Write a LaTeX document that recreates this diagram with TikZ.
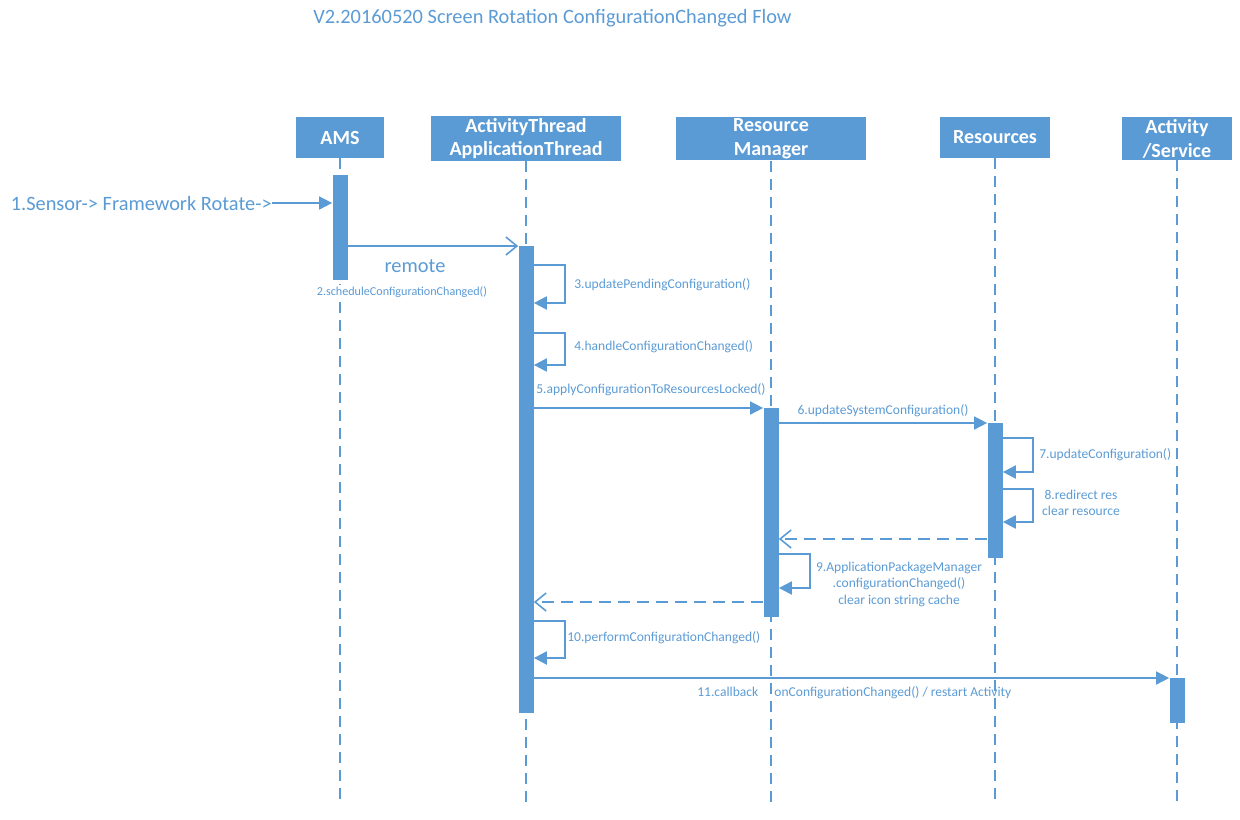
\documentclass[tikz,border=0pt]{standalone}
\usepackage{fontspec}
\setmainfont{Carlito}
\usetikzlibrary{arrows.meta,positioning}
\definecolor{seqblue}{HTML}{5B9BD5}
\tikzset{
  lifebox/.style={fill=seqblue,text=white,font=\bfseries\fontsize{11.4}{13.6}\selectfont,minimum height=0.82cm,align=center,inner sep=1pt},
  actbar/.style={fill=seqblue,minimum width=0.3cm,inner sep=0pt,anchor=north},
  lifeline/.style={seqblue,line width=0.9pt,dash pattern=on 0.22cm off 0.14cm},
  msg/.style={seqblue,line width=0.9pt,-{Triangle[length=0.26cm,width=0.26cm]}},
  remsg/.style={seqblue,line width=0.9pt,-{Straight Barb[length=0.22cm,width=0.36cm]}},
  retmsg/.style={seqblue,line width=0.9pt,dash pattern=on 0.24cm off 0.14cm,-{Straight Barb[length=0.22cm,width=0.36cm]}},
  selfmsg/.style={seqblue,line width=1.2pt,-{Triangle[length=0.26cm,width=0.26cm]}},
  lbl/.style={text=seqblue,font=\fontsize{7.7}{9.4}\selectfont,inner sep=0pt,align=center},
  biglbl/.style={text=seqblue,font=\fontsize{11.6}{13}\selectfont,inner sep=0pt}
}
\begin{document}
\begin{tikzpicture}[x=0.02cm,y=-0.02cm]
\useasboundingbox (0,0) rectangle (1240,819);
\node[biglbl,anchor=west,font=\fontsize{11.6}{13}\selectfont] (title) at (313,18) {V2.20160520 Screen Rotation ConfigurationChanged Flow}; % title
% lifeline heads
\node[lifebox,minimum width=1.76cm] (ams) at (340,137.5) {AMS};
\node[lifebox,minimum width=3.82cm] (at) at (526,138.5) {ActivityThread\\ApplicationThread};
\node[lifebox,minimum width=3.82cm] (rm) at (771,138.5) {Resource\\Manager};
\node[lifebox,minimum width=2.2cm] (res) at (995,137.5) {Resources};
\node[lifebox,minimum width=2.2cm] (act) at (1177,138.5) {Activity\\/Service};
\coordinate (bottom) at (0,803);
% dashed lifelines
\foreach \h in {ams,at,rm,res,act}
  \draw[lifeline] (\h.south) -- (\h.south |- bottom);
% activation bars
\node[actbar,minimum height=2.1cm] (amsbar) at (340,175) {};
\node[actbar,minimum height=9.34cm] (atbar) at (526,246) {};
\node[actbar,minimum height=4.18cm] (rmbar) at (771,408) {};
\node[actbar,minimum height=2.7cm] (resbar) at (995,423) {};
\node[actbar,minimum height=0.9cm] (actbar) at (1177,678) {};
% 1
\node[biglbl,anchor=east] (sensor) at (272,203) {1.Sensor-> Framework Rotate->};
\draw[msg] (sensor.east) -- (amsbar.west |- sensor.east);
% 2
\draw[remsg] (amsbar.east |- 0,246) -- (atbar.west |- 0,246);
\node[biglbl] (remote) at (415,266) {remote};
\node[lbl,fill=white,inner sep=1pt,font=\fontsize{6.9}{8}\selectfont] (l2) at (402,292) {2.scheduleConfigurationChanged()};
% 3, 4
\draw[selfmsg] (atbar.east |- 0,265) -- ++(31,0) -- ++(0,38) -- (atbar.east |- 0,303);
\node[lbl,anchor=west] (l3) at (574,285) {3.updatePendingConfiguration()};
\draw[selfmsg] (atbar.east |- 0,333) -- ++(31,0) -- ++(0,32) -- (atbar.east |- 0,365);
\node[lbl,anchor=west] (l4) at (574,347) {4.handleConfigurationChanged()};
% 5
\draw[msg] (atbar.east |- rmbar.north) -- (rmbar.north west);
\node[lbl,anchor=west] (l5) at (536,390) {5.applyConfigurationToResourcesLocked()};
% 6
\draw[msg] (rmbar.east |- resbar.north) -- (resbar.north west);
\node[lbl] (l6) at (883,411) {6.updateSystemConfiguration()};
% 7, 8
\draw[selfmsg] (resbar.east |- 0,438) -- ++(30,0) -- ++(0,34) -- (resbar.east |- 0,472);
\node[lbl,anchor=west] (l7) at (1039,455) {7.updateConfiguration()};
\draw[selfmsg] (resbar.east |- 0,489) -- ++(30,0) -- ++(0,33) -- (resbar.east |- 0,522);
\node[lbl] (l8) at (1081,503) {8.redirect res\\clear resource};
% return to ResourceManager
\draw[retmsg] (resbar.west |- 0,539) -- (rmbar.east |- 0,539);
% 9
\draw[selfmsg] (rmbar.east |- 0,554) -- ++(31,0) -- ++(0,34) -- (rmbar.east |- 0,588);
\node[lbl] (l9) at (899,584) {9.ApplicationPackageManager\\.configurationChanged()\\clear icon string cache};
% return to ActivityThread
\draw[retmsg] (rmbar.west |- 0,602) -- (atbar.east |- 0,602);
% 10
\draw[selfmsg] (atbar.east |- 0,621) -- ++(31,0) -- ++(0,37) -- (atbar.east |- 0,658);
\node[lbl,anchor=west] (l10) at (567,638) {10.performConfigurationChanged()};
% 11
\draw[msg] (atbar.east |- actbar.north) -- (actbar.north west);
\node[lbl,anchor=west] (l11) at (697,693) {11.callback\hspace{1.2em}onConfigurationChanged() / restart Activity};
\end{tikzpicture}
\end{document}
